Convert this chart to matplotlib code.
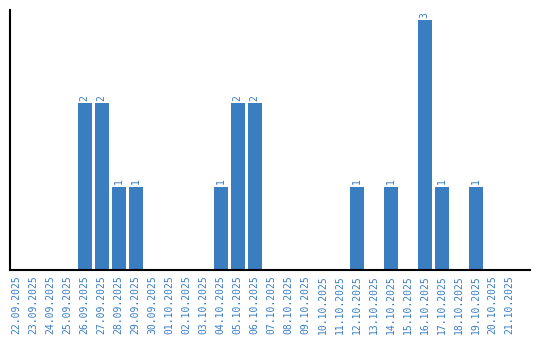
import matplotlib
matplotlib.use("Agg")
import matplotlib.pyplot as plt
import numpy as np

# daily counts, 22.09.2025 .. 21.10.2025
dates = ["22.09.2025", "23.09.2025", "24.09.2025", "25.09.2025", "26.09.2025",
         "27.09.2025", "28.09.2025", "29.09.2025", "30.09.2025", "01.10.2025",
         "02.10.2025", "03.10.2025", "04.10.2025", "05.10.2025", "06.10.2025",
         "07.10.2025", "08.10.2025", "09.10.2025", "10.10.2025", "11.10.2025",
         "12.10.2025", "13.10.2025", "14.10.2025", "15.10.2025", "16.10.2025",
         "17.10.2025", "18.10.2025", "19.10.2025", "20.10.2025", "21.10.2025"]
counts = [0, 0, 0, 0, 2, 2, 1, 1, 0, 0,
          0, 0, 1, 2, 2, 0, 0, 0, 0, 0,
          1, 0, 1, 0, 3, 1, 0, 1, 0, 0]

blue = "#3a7dc1"

fig = plt.figure(figsize=(5.4, 3.4), dpi=100)
ax = fig.add_axes([10/540, 70/340, 520/540, 260/340])

x = np.arange(len(dates))
bars = ax.bar(x, counts, width=0.82, color=blue)

for xi, c in zip(x, counts):
    if c > 0:
        ax.text(xi, c + 0.03, str(c), rotation=90, ha="center", va="bottom",
                color=blue, fontsize=7, family="DejaVu Sans Mono")

ax.set_xlim(-0.4, 30.2)
ax.set_ylim(0, 3.12)
ax.set_xticks(x)
ax.set_xticklabels(dates, rotation=90, color=blue, fontsize=7,
                   family="DejaVu Sans Mono")
ax.tick_params(axis="x", length=0, pad=4)
ax.set_yticks([])
ax.spines["top"].set_visible(False)
ax.spines["right"].set_visible(False)
ax.spines["left"].set_linewidth(1.5)
ax.spines["bottom"].set_linewidth(1.5)

fig.savefig("out.png", dpi=100)
